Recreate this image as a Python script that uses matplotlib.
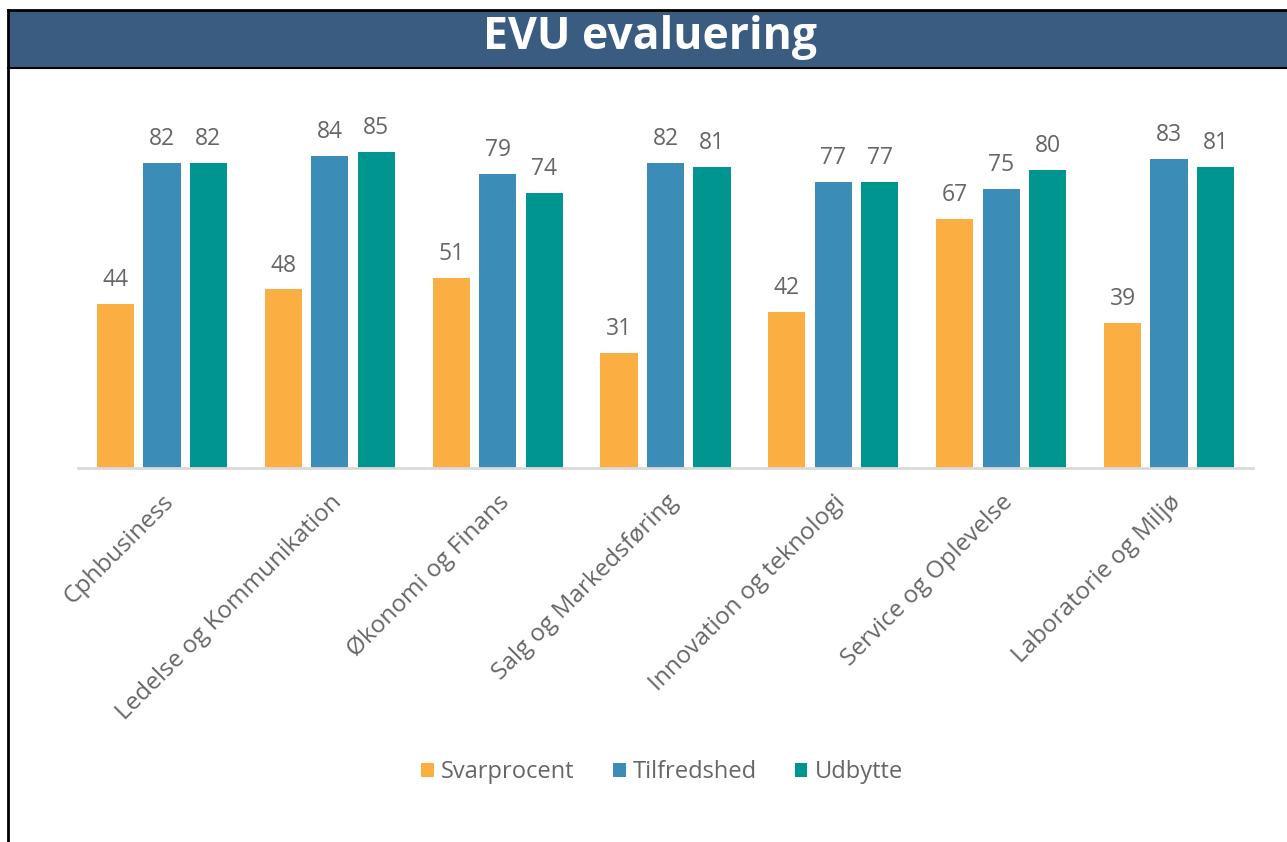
import matplotlib
matplotlib.use("Agg")
import matplotlib.pyplot as plt
from matplotlib.patches import Rectangle
from matplotlib.lines import Line2D
import numpy as np

categories = ["Cphbusiness", "Ledelse og Kommunikation", "Økonomi og Finans",
              "Salg og Markedsføring", "Innovation og teknologi",
              "Service og Oplevelse", "Laboratorie og Miljø"]
svarprocent = [44, 48, 51, 31, 42, 67, 39]
tilfredshed = [82, 84, 79, 82, 77, 75, 83]
udbytte = [82, 85, 74, 81, 77, 80, 81]
series_names = ["Svarprocent", "Tilfredshed", "Udbytte"]
colors = ["#FBAE42", "#3B8DB7", "#00958E"]
title = "EVU evaluering"

W, H = 1287, 842
fig = plt.figure(figsize=(W / 100, H / 100), dpi=100)
fig.patch.set_facecolor("white")

font = ["Open Sans", "DejaVu Sans"]
gray = "#666666"

# title bar
fig.patches.append(Rectangle((8 / W, 1 - 68 / H), 1 - 8 / W, 58 / H,
                             transform=fig.transFigure, facecolor="#395C80",
                             edgecolor="none", zorder=0))
fig.text(650 / W, 1 - 38 / H, title, color="white", fontsize=32,
         fontweight="bold", family=font, ha="center", va="center")
# border lines
fig.add_artist(Line2D([8 / W, 8 / W], [0, 1 - 10 / H], transform=fig.transFigure,
                      color="black", lw=2))
fig.add_artist(Line2D([8 / W, 1], [1 - 10 / H, 1 - 10 / H], transform=fig.transFigure,
                      color="black", lw=2))
fig.add_artist(Line2D([8 / W, 1], [1 - 68 / H, 1 - 68 / H], transform=fig.transFigure,
                      color="black", lw=1.5))

left, right = 78, 1253
bottom_px, top_px = 468, 96
ax = fig.add_axes([left / W, 1 - bottom_px / H, (right - left) / W,
                   (bottom_px - top_px) / H])
ax.set_facecolor("none")

x = np.arange(len(categories))
bw = 0.222
step = 0.277
data = [svarprocent, tilfredshed, udbytte]
for i, (vals, name, c) in enumerate(zip(data, series_names, colors)):
    bars = ax.bar(x + (i - 1) * step, vals, width=bw, color=c, label=name, zorder=2)
    for b, v in zip(bars, vals):
        ax.text(b.get_x() + b.get_width() / 2, v + 3.2, str(v), ha="center",
                va="bottom", fontsize=16.5, color=gray, family=font)

ax.set_xlim(-0.5, len(categories) - 0.5)
ax.set_ylim(0, 100)
for s in ["top", "right", "left"]:
    ax.spines[s].set_visible(False)
ax.spines["bottom"].set_color("#D9D9D9")
ax.spines["bottom"].set_linewidth(2)
ax.set_yticks([])
ax.set_xticks(x)
ax.set_xticklabels(categories, rotation=45, ha="right", rotation_mode="anchor",
                   fontsize=17.5, color=gray, family=font)
ax.tick_params(axis="x", length=0, pad=16)

leg = fig.legend(loc="center", bbox_to_anchor=(662 / W, 1 - 772 / H), ncol=3,
                 frameon=False, prop={"family": font, "size": 17},
                 handlelength=0.55, handleheight=0.55, handletextpad=0.3,
                 columnspacing=1.6)
for t in leg.get_texts():
    t.set_color(gray)

fig.savefig("out.png", dpi=100)
